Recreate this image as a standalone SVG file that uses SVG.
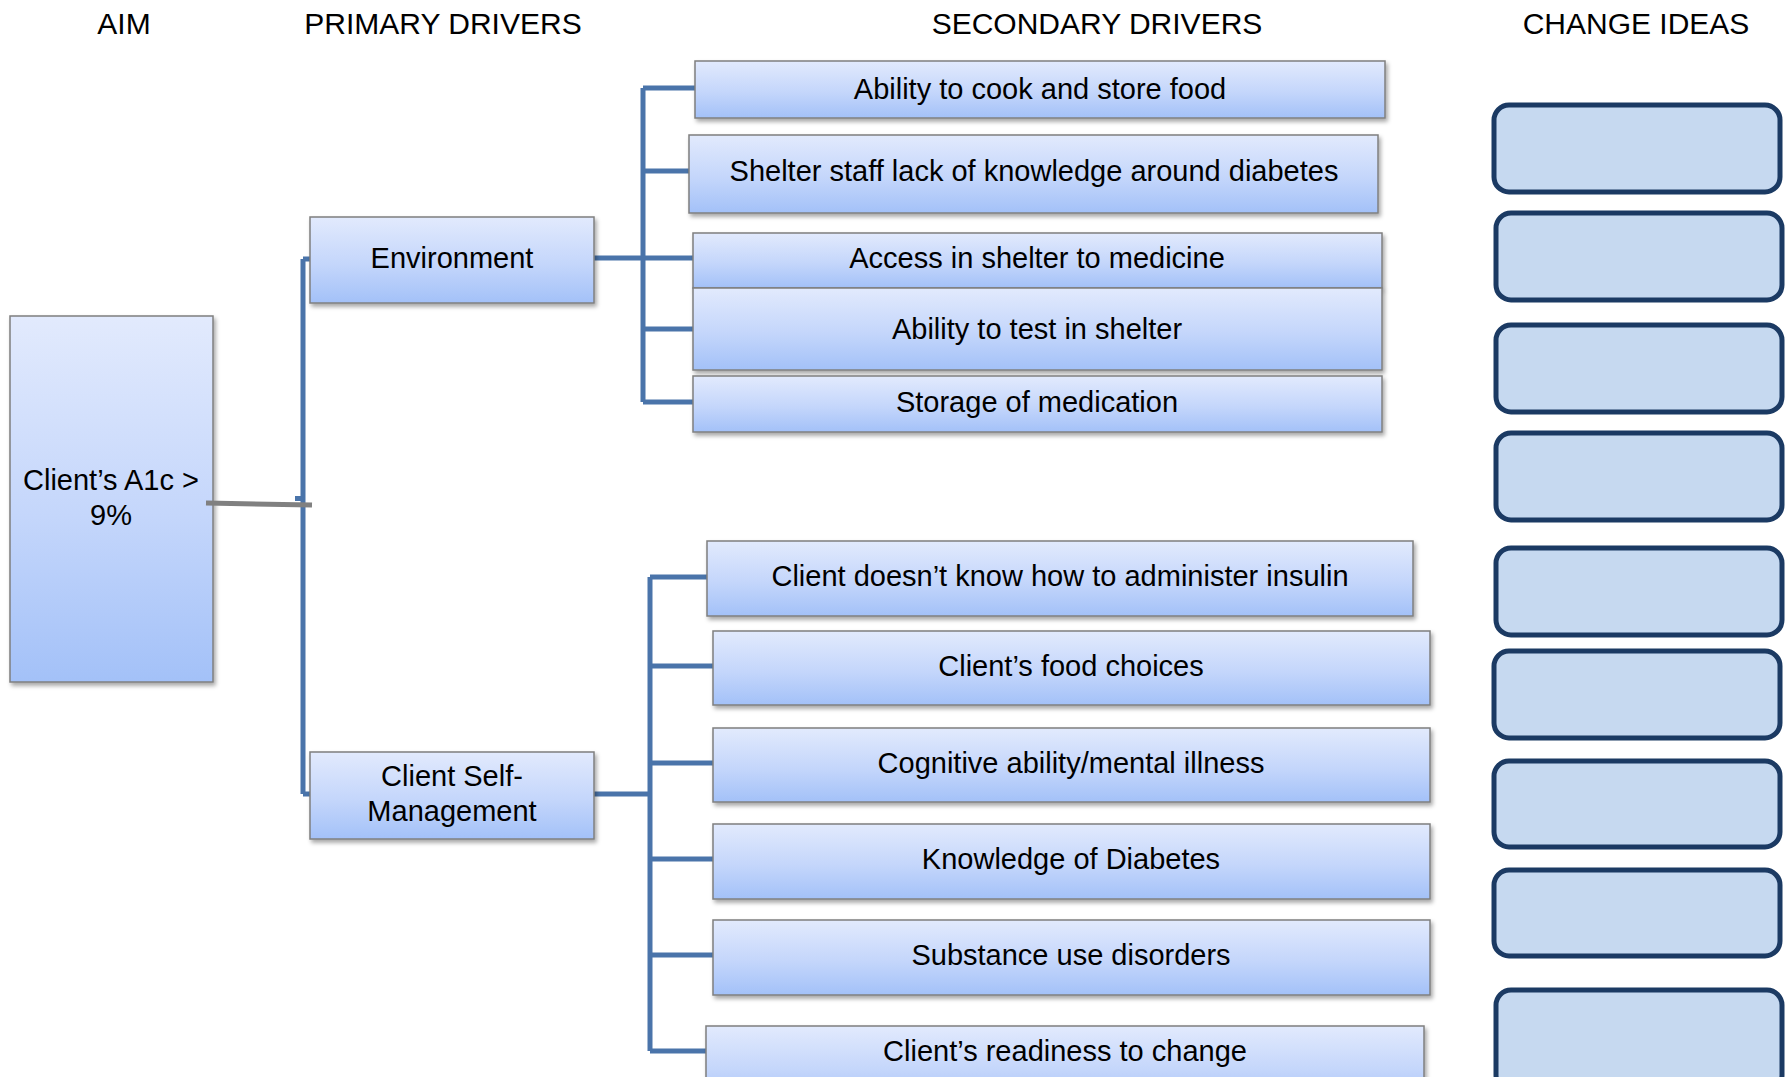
<svg xmlns="http://www.w3.org/2000/svg" width="1792" height="1077" viewBox="0 0 1792 1077">
<defs>
<linearGradient id="g" x1="0" y1="0" x2="0" y2="1">
<stop offset="0" stop-color="#e2eafd"/>
<stop offset="0.55" stop-color="#c4d6fb"/>
<stop offset="1" stop-color="#a3c1f8"/>
</linearGradient>
<filter id="sh" x="-5%" y="-10%" width="115%" height="130%">
<feDropShadow dx="2" dy="3" stdDeviation="2" flood-color="#000" flood-opacity="0.35"/>
</filter>
<style>
.n{fill:url(#g);stroke:#7f7f7f;stroke-width:1.5;filter:url(#sh)}
.c{fill:#c6d9f0;stroke:#1b3a63;stroke-width:5}
.t{font-family:"Liberation Sans",Arial,sans-serif;font-size:29px;fill:#000;text-anchor:middle}
.h{font-family:"Liberation Sans",Arial,sans-serif;font-size:30px;fill:#000;text-anchor:middle}
.l{fill:none;stroke:#4a74aa;stroke-width:5}
</style>
</defs>
<rect width="1792" height="1077" fill="#fff"/>
<g id="headers">
<text class="h" x="124" y="34">AIM</text>
<text class="h" x="443" y="34">PRIMARY DRIVERS</text>
<text class="h" x="1097" y="34">SECONDARY DRIVERS</text>
<text class="h" x="1636" y="34">CHANGE IDEAS</text>
</g>
<g id="aim"><rect class="n" x="10" y="316" width="203" height="366"/><text class="t" x="111" y="490">Client’s A1c &gt;</text><text class="t" x="111" y="525">9%</text></g>
<g id="connectors">
<path class="l" d="M303 259 V794 M303 259 H312 M303 794 H312"/>
<path class="l" d="M594 258 H695 M643 88 V402 M643 88 H697 M643 171 H691 M643 329 H695 M643 402 H695"/>
<path class="l" d="M594 794 H650 M650 577 V1051 M650 577 H709 M650 666 H715 M650 763 H715 M650 859 H715 M650 955 H715 M650 1051 H708"/>
<rect x="295" y="496" width="8" height="5" fill="#4a74aa"/>
<line x1="206" y1="503" x2="312" y2="505" stroke="#808080" stroke-width="5"/>
</g>
<g id="environment"><rect class="n" x="310" y="217" width="284" height="86"/><text class="t" x="452" y="268">Environment</text></g>
<g id="self-management"><rect class="n" x="310" y="752" width="284" height="87"/><text class="t" x="452" y="786">Client Self-</text><text class="t" x="452" y="821">Management</text></g>
<g id="s1"><rect class="n" x="695" y="61" width="690" height="57"/><text class="t" x="1040" y="99">Ability to cook and store food</text></g>
<g id="s2"><rect class="n" x="689" y="135" width="689" height="78"/><text class="t" x="1034" y="181">Shelter staff lack of knowledge around diabetes</text></g>
<g id="s3"><rect class="n" x="693" y="233" width="689" height="55"/><text class="t" x="1037" y="268">Access in shelter to medicine</text></g>
<g id="s4"><rect class="n" x="693" y="288" width="689" height="82"/><text class="t" x="1037" y="339">Ability to test in shelter</text></g>
<g id="s5"><rect class="n" x="693" y="376" width="689" height="56"/><text class="t" x="1037" y="412">Storage of medication</text></g>
<g id="s6"><rect class="n" x="707" y="541" width="706" height="75"/><text class="t" x="1060" y="586">Client doesn’t know how to administer insulin</text></g>
<g id="s7"><rect class="n" x="713" y="631" width="717" height="74"/><text class="t" x="1071" y="676">Client’s food choices</text></g>
<g id="s8"><rect class="n" x="713" y="728" width="717" height="74"/><text class="t" x="1071" y="773">Cognitive ability/mental illness</text></g>
<g id="s9"><rect class="n" x="713" y="824" width="717" height="75"/><text class="t" x="1071" y="869">Knowledge of Diabetes</text></g>
<g id="s10"><rect class="n" x="713" y="920" width="717" height="75"/><text class="t" x="1071" y="965">Substance use disorders</text></g>
<g id="s11"><rect class="n" x="706" y="1026" width="718" height="80"/><text class="t" x="1065" y="1061">Client’s readiness to change</text></g>
<g id="ideas">
<rect class="c" x="1494" y="105" width="286" height="87" rx="15"/>
<rect class="c" x="1496" y="213" width="286" height="87" rx="15"/>
<rect class="c" x="1496" y="325" width="286" height="87" rx="15"/>
<rect class="c" x="1496" y="433" width="286" height="87" rx="15"/>
<rect class="c" x="1496" y="548" width="286" height="87" rx="15"/>
<rect class="c" x="1494" y="651" width="286" height="87" rx="15"/>
<rect class="c" x="1494" y="761" width="286" height="86" rx="15"/>
<rect class="c" x="1494" y="870" width="286" height="86" rx="15"/>
<rect class="c" x="1496" y="990" width="286" height="100" rx="15"/>
</g>
</svg>
